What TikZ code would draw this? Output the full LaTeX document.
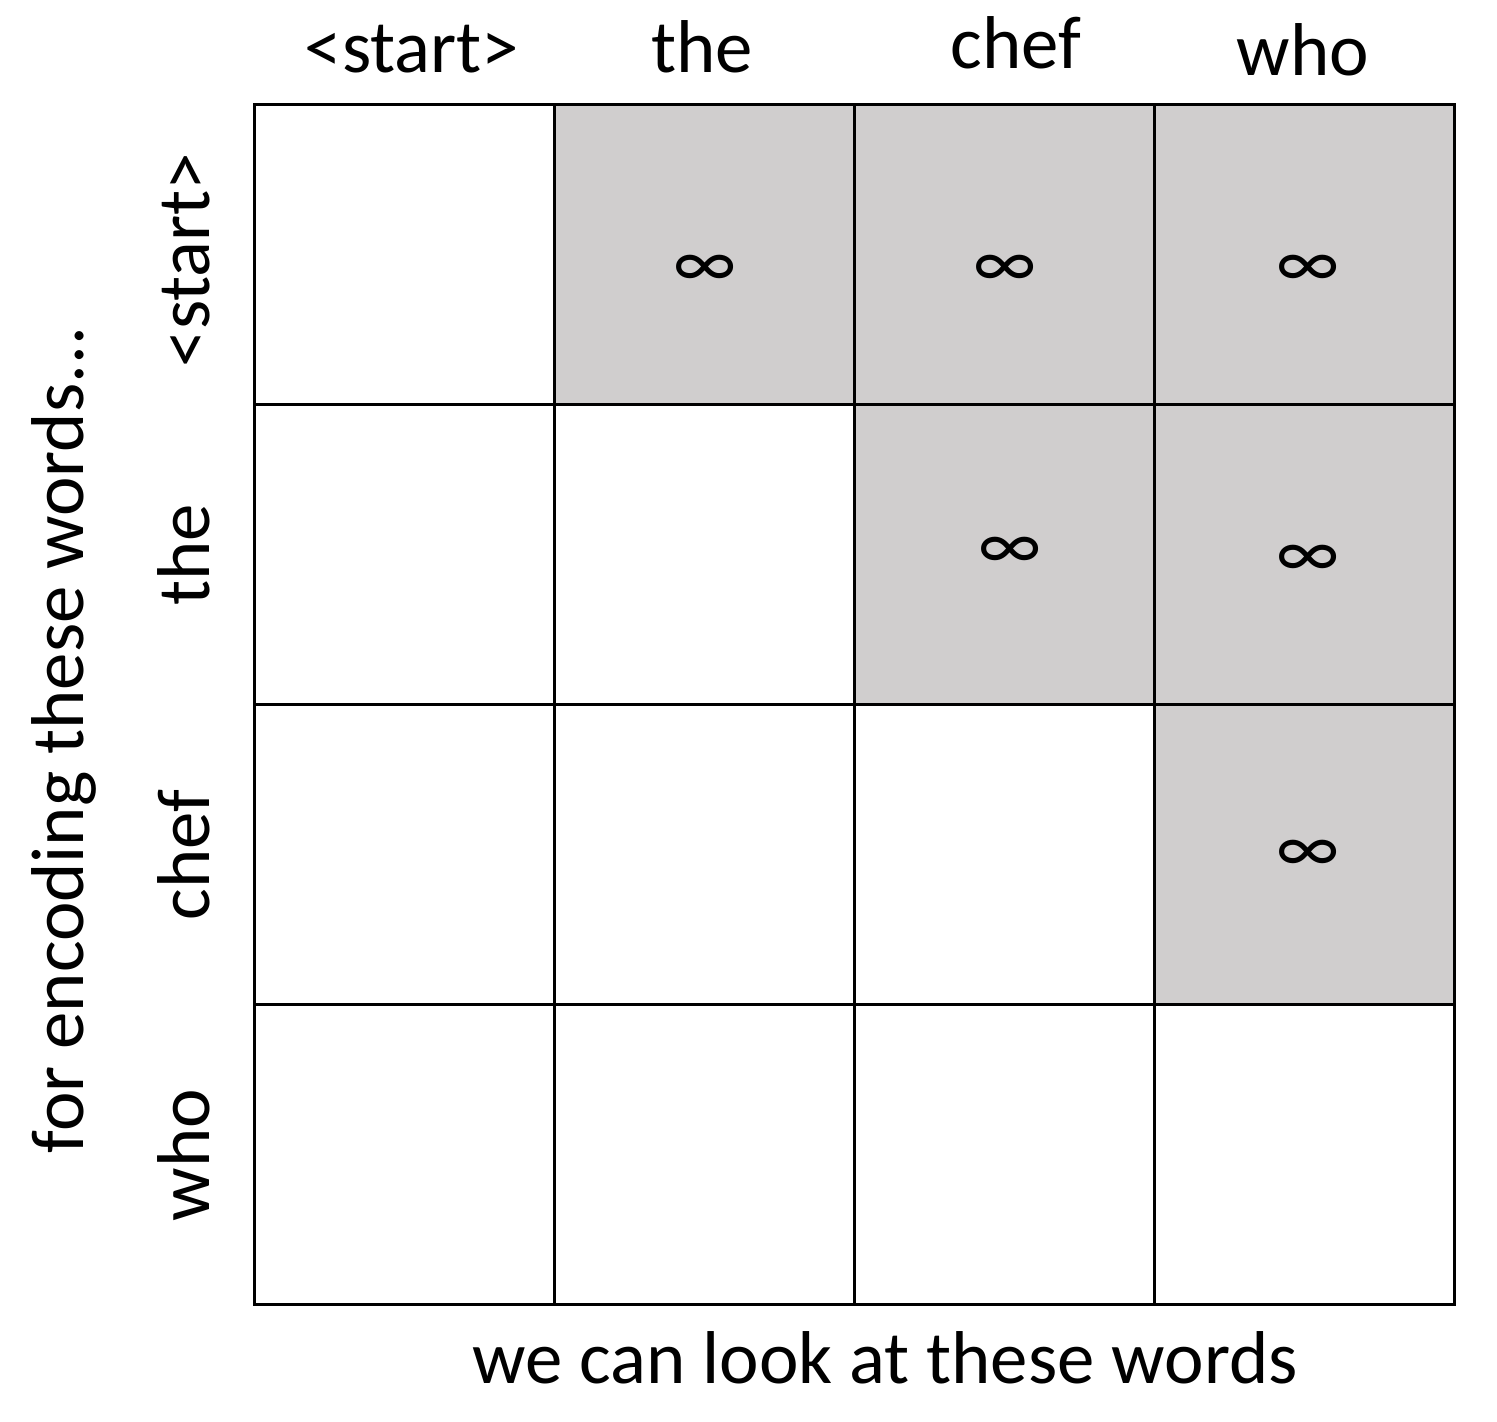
\documentclass[tikz,border=0pt]{standalone}
\usepackage{fontspec}
\setmainfont{Carlito}
\definecolor{maskgray}{RGB}{208,206,206}
\begin{document}
\begin{tikzpicture}[x=0.02cm,y=-0.02cm,
  cellbox/.style={draw=black,line width=1.8pt,minimum size=6cm,inner sep=0pt,anchor=north west},
  masked/.style={cellbox,fill=maskgray},
  open/.style={cellbox,fill=white},
  lbl/.style={font=\fontsize{42.6}{50}\selectfont,inner sep=0pt},
  inf/.style={font=\fontsize{42}{46}\selectfont,inner sep=0pt}]
\useasboundingbox (0,0) rectangle (1497,1421);
% row 1
\node[open]   (c11) at (253,103) {};
\node[masked] (c12) at (553,103) {};
\node[masked] (c13) at (853,103) {};
\node[masked] (c14) at (1153,103) {};
% row 2
\node[open]   (c21) at (253,403) {};
\node[open]   (c22) at (553,403) {};
\node[masked] (c23) at (853,403) {};
\node[masked] (c24) at (1153,403) {};
% row 3
\node[open]   (c31) at (253,703) {};
\node[open]   (c32) at (553,703) {};
\node[open]   (c33) at (853,703) {};
\node[masked] (c34) at (1153,703) {};
% row 4
\node[open]   (c41) at (253,1003) {};
\node[open]   (c42) at (553,1003) {};
\node[open]   (c43) at (853,1003) {};
\node[open]   (c44) at (1153,1003) {};
% infinities
\node[inf] (i12) at (705,271) {∞};
\node[inf] (i13) at (1005,271) {∞};
\node[inf] (i14) at (1308,271) {∞};
\node[inf] (i23) at (1010,553) {∞};
\node[inf] (i24) at (1308,561) {∞};
\node[inf] (i34) at (1308,856) {∞};
% column labels
\node[lbl,anchor=base] (t1) at (412,72) {<start>};
\node[lbl,anchor=base] (t2) at (702,72) {the};
\node[lbl,anchor=base] (t3) at (1016,68) {chef};
\node[lbl,anchor=base] (t4) at (1303,75) {who};
% row labels
\node[lbl,anchor=base,rotate=90] (r1) at (209,260) {<start>};
\node[lbl,anchor=base,rotate=90] (r2) at (209,555) {the};
\node[lbl,anchor=base,rotate=90] (r3) at (209,855) {chef};
\node[lbl,anchor=base,rotate=90] (r4) at (209,1155) {who};
% axis titles
\node[lbl,anchor=base,rotate=90] (ylab) at (83,740) {for encoding these words...};
\node[lbl,anchor=base] (xlab) at (885,1383) {we can look at these words};
\end{tikzpicture}
\end{document}
